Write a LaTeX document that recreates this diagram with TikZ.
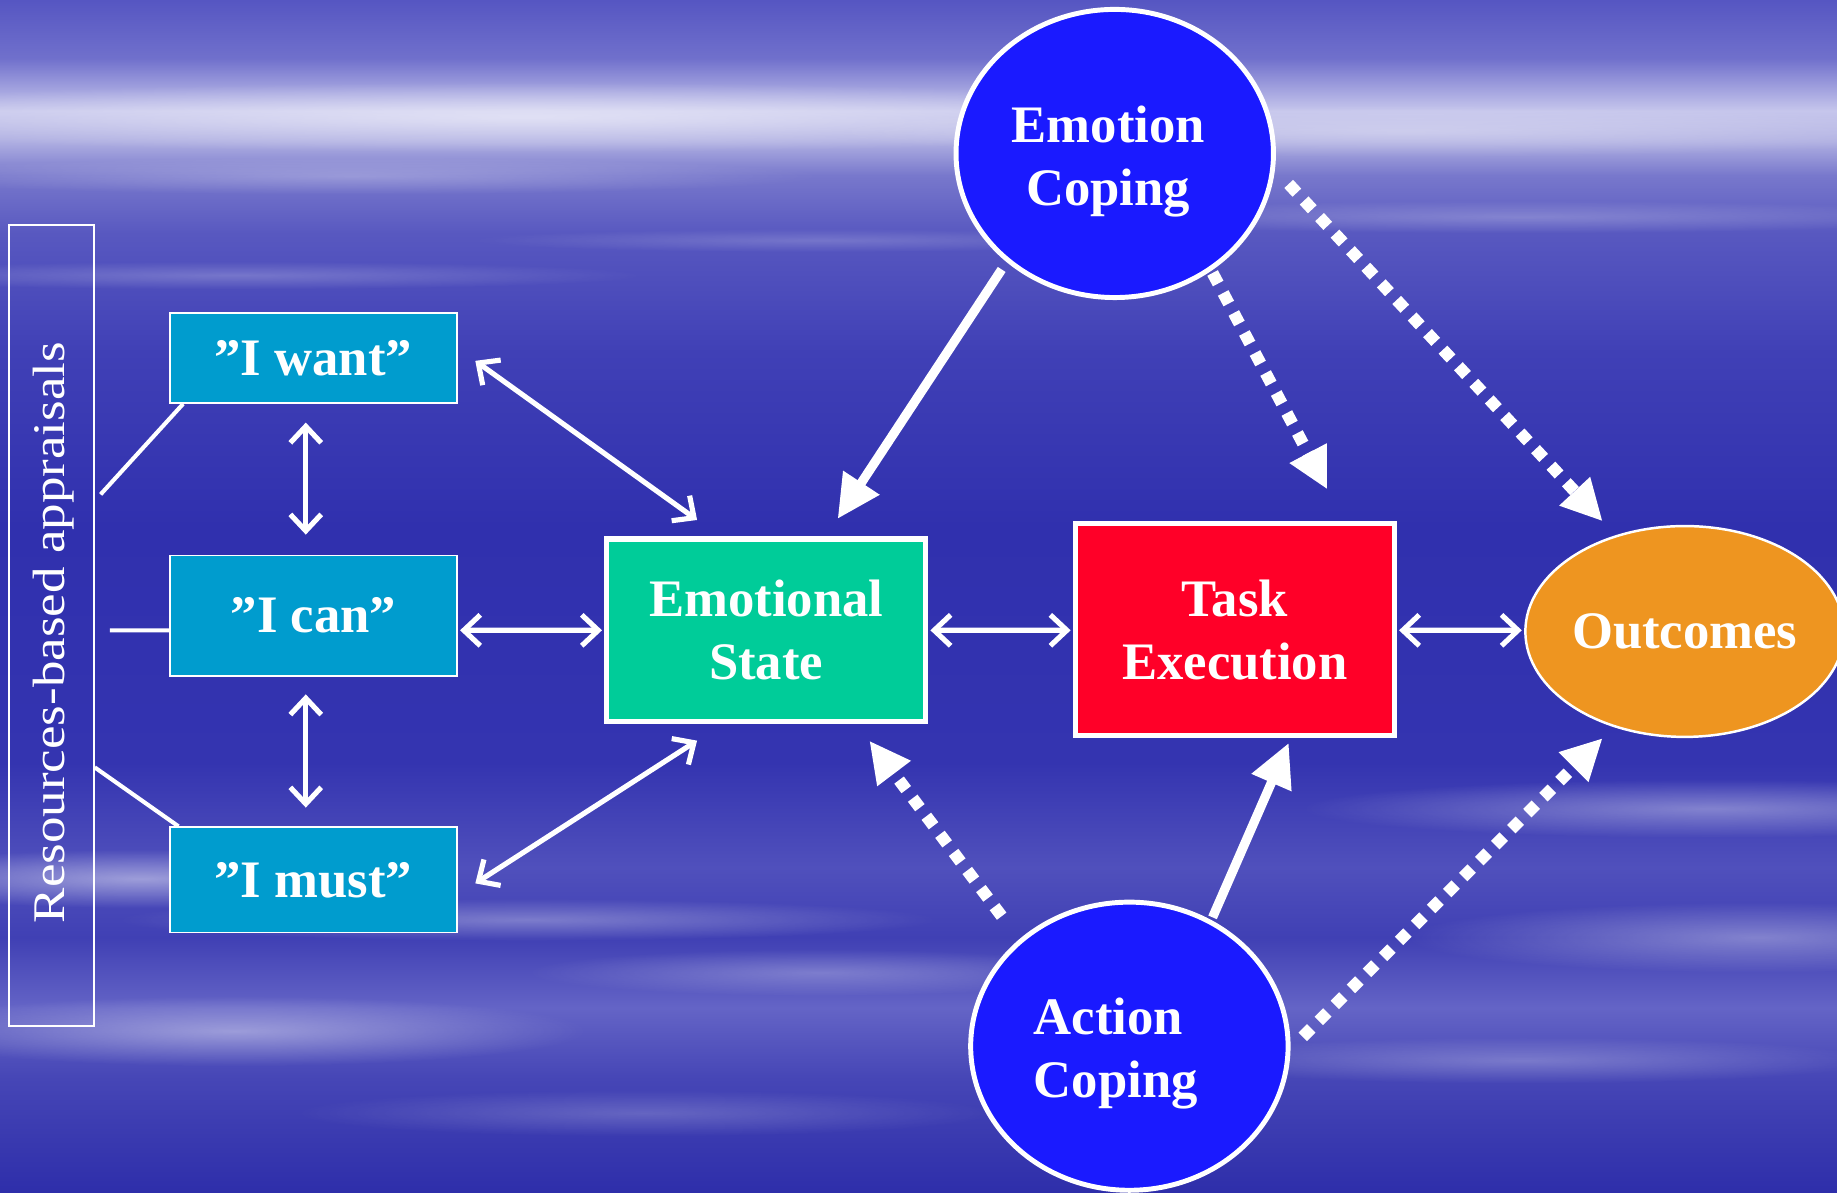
\documentclass[tikz,border=0pt]{standalone}
\usepackage{fontspec}
\setmainfont{Liberation Serif}
\usetikzlibrary{arrows.meta,shapes.geometric,fadings,calc}
\definecolor{cyanbox}{HTML}{009CCE}
\definecolor{esgreen}{HTML}{00CC99}
\definecolor{taskred}{HTML}{FF0028}
\definecolor{outorange}{HTML}{EE9520}
\definecolor{circblue}{HTML}{1A1AFF}
\definecolor{s00}{HTML}{5656C2}
\definecolor{s05}{HTML}{7070CC}
\definecolor{s09}{HTML}{C6C6EC}
\definecolor{s12}{HTML}{B0B0E2}
\definecolor{s15}{HTML}{7878CC}
\definecolor{s20}{HTML}{5858C0}
\definecolor{s30}{HTML}{4040B6}
\definecolor{s45}{HTML}{3030AE}
\definecolor{s65}{HTML}{3434B0}
\definecolor{s74}{HTML}{5050BC}
\definecolor{s80}{HTML}{4040B4}
\definecolor{s86}{HTML}{6464C6}
\definecolor{s92}{HTML}{4646B6}
\definecolor{s100}{HTML}{2E2EAA}
\pgfdeclareverticalshading{bgsh}{100bp}{color(0bp)=(s100); color(25bp)=(s100); color(29.8bp)=(s92); color(32.75bp)=(s86); color(35.7bp)=(s80); color(38.65bp)=(s74); color(43.05bp)=(s65); color(52.9bp)=(s45); color(60.25bp)=(s30); color(65.2bp)=(s20); color(67.65bp)=(s15); color(69.1bp)=(s12); color(70.35bp)=(s09); color(72.55bp)=(s05); color(75bp)=(s00); color(100bp)=(s00)}
\tikzfading[name=fuzz, inner color=transparent!0, outer color=transparent!100]
\newcommand\dgfont{\fontsize{25.6}{30.7}\selectfont\bfseries}
\tikzset{
  ibox/.style={draw=white, line width=0.8pt, fill=cyanbox, minimum width=4.9cm, inner sep=0pt, text=white, font=\dgfont},
  bigbox/.style={draw=white, line width=2.5pt, minimum width=5.44cm, inner sep=0pt, text=white, font=\dgfont, align=center},
  copecirc/.style={ellipse, draw=white, line width=2.4pt, fill=circblue, minimum width=5.42cm, minimum height=4.92cm, inner sep=0pt},
  copetext/.style={text=white, font=\dgfont, inner sep=0pt},
  twoway/.style={white, line width=2.5pt, {Straight Barb[length=8pt,width=15pt]}-{Straight Barb[length=8pt,width=15pt]}},
  thinline/.style={white, line width=2pt},
  thickarr/.style={white, line width=4.5pt, -{Triangle[length=21pt,width=20pt]}},
  dotarr/.style={white, line width=5.8pt, dash pattern=on 5.8pt off 5.2pt, -{Triangle[length=20pt,width=19pt]}},
  streak/.style={white, path fading=fuzz}
}
\begin{document}
\begin{tikzpicture}[x=0.02cm,y=-0.02cm]
\useasboundingbox (0,0) rectangle (1568,1018);
\shade[shading=bgsh] (0,0) rectangle (1568,1018);
\begin{scope}
\clip (0,0) rectangle (1568,1018);
\fill[streak, opacity=.5] (450,100) ellipse (650 and 30);
\fill[streak, opacity=.3] (1200,112) ellipse (500 and 22);
\fill[streak, opacity=.25] (300,150) ellipse (400 and 16);
\fill[streak, opacity=.22] (1300,185) ellipse (400 and 14);
\fill[streak, opacity=.22] (200,235) ellipse (350 and 12);
\fill[streak, opacity=.18] (700,205) ellipse (300 and 10);
\fill[streak, opacity=.45] (120,750) ellipse (250 and 25);
\fill[streak, opacity=.3] (450,785) ellipse (350 and 18);
\fill[streak, opacity=.4] (200,880) ellipse (300 and 30);
\fill[streak, opacity=.35] (1460,690) ellipse (350 and 25);
\fill[streak, opacity=.35] (1500,800) ellipse (300 and 30);
\fill[streak, opacity=.25] (700,830) ellipse (250 and 20);
\fill[streak, opacity=.25] (1300,905) ellipse (300 and 20);
\fill[streak, opacity=.2] (550,950) ellipse (300 and 20);
\end{scope}

% left frame
\node[draw=white, line width=1pt, minimum width=1.44cm, minimum height=13.68cm, inner sep=0pt] (frame) at (44,534) {};
\node[rotate=90, text=white, inner sep=0pt] (res) at (46,540) {\scalebox{1.17}[1]{\fontsize{22}{26}\selectfont Resources-based appraisals}};

% I boxes
\node[ibox, minimum height=1.54cm] (iwant) at (267.5,305.5) {”I want”};
\node[ibox, minimum height=2.06cm] (ican) at (267.5,525.5) {”I can”};
\node[ibox, minimum height=1.8cm] (imust) at (267.5,751) {”I must”};

% main nodes
\node[bigbox, fill=esgreen, minimum height=3.12cm] (es) at (654,538) {Emotional\\State};
\node[bigbox, fill=taskred, minimum height=3.62cm] (task) at (1054,537.5) {Task\\Execution};
\node[ellipse, draw=white, line width=1.2pt, fill=outorange, minimum width=5.24cm, minimum height=3.6cm, inner sep=0pt, text=white, font=\dgfont] (out) at (1438,539) {Outcomes};
\node[copecirc] (emo) at (951.5,131) {};
\node[copetext, align=center] (emotext) at (946,138) {Emotion\\Coping};
\node[copecirc] (act) at (964,893) {};
\node[copetext, align=left] (acttext) at (952.5,899) {Action\\Coping};

% frame connectors
\draw[thinline] ($(frame.east)+(5,-112)$) -- ($(iwant.south west)+(12,0)$);
\draw[thinline] ($(frame.east)+(13,4)$) -- ($(ican.west)+(0,12.5)$);
\draw[thinline] ($(frame.east)+(0,121)$) -- ($(imust.north west)+(8,0)$);

% two-way arrows
\draw[twoway] ($(iwant.south)+(-6.5,16)$) -- ($(ican.north)+(-6.5,-17)$);
\draw[twoway] ($(ican.south)+(-6.5,15)$) -- ($(imust.north)+(-6.5,-16)$);
\draw[twoway] ($(iwant.east)+(15,2.5)$) -- ($(es.north)+(-59,-14)$);
\draw[twoway] ($(ican.east)+(2,12.5)$) -- ($(es.west)+(-2,0)$);
\draw[twoway] ($(imust.east)+(15,3)$) -- ($(es.south)+(-59,14)$);
\draw[twoway] ($(es.east)+(2,0)$) -- ($(task.west)+(-2,0.5)$);
\draw[twoway] ($(task.east)+(2,0.5)$) -- ($(out.west)+(-2,-1)$);

% solid coping arrows
\draw[thickarr] ($(emo.center)+(-96.5,99)$) -- ($(es.north)+(61,-15)$);
\draw[thickarr] ($(act.center)+(71,-110)$) -- ($(task.south)+(46,4)$);

% dotted arrows
\draw[dotarr] ($(emo.center)+(83.5,102)$) -- ($(task.north)+(79,-27)$);
\draw[dotarr] ($(emo.center)+(148.5,26)$) -- ($(out.center)+(-70,-94)$);
\draw[dotarr] ($(act.center)+(-109,-111)$) -- ($(es.south)+(88,14)$);
\draw[dotarr] ($(act.center)+(148,-8)$) -- ($(out.center)+(-70,91)$);
\end{tikzpicture}
\end{document}
